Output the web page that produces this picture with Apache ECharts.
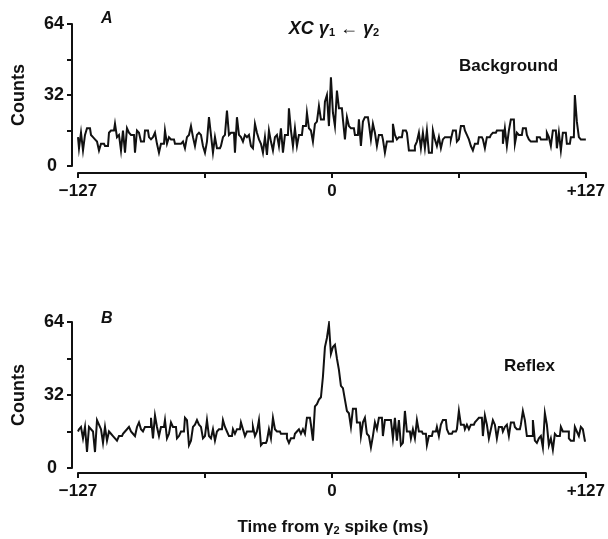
<!DOCTYPE html>
<html>
<head>
<meta charset="utf-8">
<script src="https://cdn.jsdelivr.net/npm/echarts@6/dist/echarts.min.js"></script>
<style>
html,body{margin:0;padding:0;background:#fff;}
#chart{width:608px;height:539px;}
</style>
</head>
<body>
<div id="chart"></div>
<script>
// Bin times (ms) start at -127, one bin per ms
const binStart = -127;
// Panel A: background cross-correlogram counts
const countsA = [
  13,8,15,7,14,17,17,14,13,12,
  11,7,10,10,9,9,15,16,16,19,
  13,14,7,16,6,17,15,14,14,6,
  16,15,11,11,16,16,13,12,13,15,
  10,6,10,10,16,10,13,12,12,10,
  10,10,10,11,8,13,14,18,13,9,
  14,15,14,9,6,
  11,22,14,6,13,
  8,8,9,13,14,25,14,15,15,6,
  22,14,13,11,14,13,14,9,8,19,
  15,12,10,6,13,5,16,11,7,13,
  14,9,17,6,14,14,26,16,9,17,
  9,14,14,18,18,24,17,16,11,19,
  20,27,21,21,29,32,18,40,
  24,18,34,26,26,21,12,22,18,17,17,14,
  14,21,9,20,22,22,19,12,19,15,
  9,14,14,12,6,11,11,11,19,14,
  12,13,13,16,16,15,7,7,7,9,
  11,15,8,15,8,16,6,6,16,12,
  9,13,8,12,13,13,13,12,16,16,
  11,12,18,18,16,14,12,9,7,10,
  10,13,13,12,8,13,13,14,15,15,
  16,16,16,10,17,9,16,21,21,10,
  15,14,14,17,17,14,12,11,11,11,
  13,13,12,12,12,15,13,9,16,16,
  8,15,7,15,15,10,10,13,13,32,
  20,13,12,12,12
];
// Panel B: reflex cross-correlogram counts
const countsB = [
  16,17,18,13,18,7,18,17,16,7,
  21,19,17,11,18,12,16,15,14,13,
  12,14,14,15,16,17,18,16,15,14,
  18,20,17,16,18,18,18,22,13,23,
  18,14,18,18,21,13,15,20,18,18,
  13,14,16,16,22,21,10,12,18,19,
  21,19,18,13,14,
  21,14,13,17,12,
  16,17,17,21,18,16,14,14,17,15,
  17,17,20,17,14,16,16,16,18,14,
  16,21,10,11,11,12,17,13,22,17,
  16,16,15,15,15,13,11,13,13,15,
  16,17,15,17,15,
  22,22,19,12,27,
  28,30,31,40,53,57,63,50,
  53,54,48,43,36,35,30,25,24,18,26,26,
  20,20,14,20,22,15,14,9,14,20,
  17,22,22,14,21,21,21,21,13,
  22,12,21,10,11,25,16,16,13,17,13,
  21,16,16,15,15,10,14,14,16,16,
  18,14,19,21,21,17,15,15,16,16,
  17,25,19,19,17,19,17,19,19,20,
  21,22,22,14,23,19,13,17,21,19,
  13,18,18,16,18,19,14,20,20,18,
  17,17,19,25,21,14,14,14,21,12,
  11,13,14,9,24,19,10,13,8,15,
  14,14,18,16,16,16,13,12,12,18,
  16,14,18,17,12
];
// Tick labels
const yTickLabels = [0, 32, 64];
const xTickValues = [-127, 0, 127];
const xTickLabels = ['\u2212127', '0', '+127'];

const FONT = "'Liberation Sans', Arial, Helvetica, sans-serif";
const INK = '#111';

function toPairs(arr) { return arr.map((v, i) => [binStart + i, v]); }

function yAxisCfg(gridIndex) {
  return {
    gridIndex, type: 'value', min: 0, max: 64, interval: 16, offset: 6,
    name: 'Counts', nameLocation: 'middle', nameRotate: 90, nameGap: 44,
    nameTextStyle: { fontFamily: FONT, fontSize: 18, fontWeight: 'bold', color: INK },
    axisLine: { show: true, onZero: false, lineStyle: { color: INK, width: 2 } },
    axisTick: { show: true, length: 5, lineStyle: { color: INK, width: 2 } },
    axisLabel: {
      margin: 8, fontFamily: FONT, fontSize: 18, fontWeight: 'bold', color: INK,
      formatter: v => (yTickLabels.indexOf(v) < 0 ? '' : (v === 0 ? '{z|0}' : String(v))),
      rich: { z: { fontFamily: FONT, fontSize: 18, fontWeight: 'bold', color: INK, padding: [0, 7, 0, 0] } }
    },
    splitLine: { show: false }
  };
}
function xAxisCfg(gridIndex, off) {
  return {
    gridIndex, type: 'value', min: -127, max: 127, interval: 63.5, offset: off,
    axisLine: { show: true, onZero: false, lineStyle: { color: INK, width: 2 } },
    axisTick: { show: true, length: 5, lineStyle: { color: INK, width: 2 } },
    axisLabel: {
      margin: 10, fontFamily: FONT, fontSize: 17, fontWeight: 'bold', color: INK,
      showMinLabel: true, showMaxLabel: true,
      formatter: v => { const k = xTickValues.indexOf(Math.round(v * 2) / 2); return k >= 0 ? xTickLabels[k] : ''; }
    },
    splitLine: { show: false }
  };
}
function seriesCfg(idx, arr) {
  return {
    type: 'line', xAxisIndex: idx, yAxisIndex: idx, step: 'middle',
    data: toPairs(arr), symbol: 'none', showSymbol: false, animation: false,
    lineStyle: { color: INK, width: 2, join: 'miter', cap: 'butt' }
  };
}

const chart = echarts.init(document.getElementById('chart'), null, { renderer: 'canvas' });
chart.setOption({
  backgroundColor: '#fff',
  animation: false,
  grid: [
    { left: 78, right: 17, top: 24, height: 142 },
    { left: 78, right: 17, top: 322, height: 146 }
  ],
  xAxis: [xAxisCfg(0, 7), xAxisCfg(1, 5)],
  yAxis: [yAxisCfg(0), yAxisCfg(1)],
  series: [seriesCfg(0, countsA), seriesCfg(1, countsB)],
  graphic: [
    { type: 'text', x: 101, y: 19, style: { text: 'A', font: 'italic bold 16px ' + FONT, fill: INK, verticalAlign: 'middle' } },
    { type: 'text', x: 101, y: 319, style: { text: 'B', font: 'italic bold 16px ' + FONT, fill: INK, verticalAlign: 'middle' } },
    { type: 'text', x: 334, y: 29, style: {
        text: '{i|XC \u03b3}{s|1}{i| \u2190 \u03b3}{s|2}', align: 'center', verticalAlign: 'middle',
        rich: {
          i: { font: 'italic bold 18px ' + FONT, fill: INK, color: INK },
          s: { font: 'bold 11px ' + FONT, fill: INK, color: INK, verticalAlign: 'bottom', padding: [8, 0, 0, 0] }
        } } },
    { type: 'text', x: 459, y: 66, style: { text: 'Background', font: 'bold 17px ' + FONT, fill: INK, verticalAlign: 'middle' } },
    { type: 'text', x: 504, y: 366, style: { text: 'Reflex', font: 'bold 17px ' + FONT, fill: INK, verticalAlign: 'middle' } },
    { type: 'text', x: 333, y: 527, style: {
        text: '{t|Time from \u03b3}{s|2}{t| spike (ms)}', align: 'center', verticalAlign: 'middle',
        rich: {
          t: { font: 'bold 17px ' + FONT, fill: INK, color: INK },
          s: { font: 'bold 11px ' + FONT, fill: INK, color: INK, verticalAlign: 'bottom', padding: [8, 0, 0, 0] }
        } } }
  ]
});
</script>
</body>
</html>
